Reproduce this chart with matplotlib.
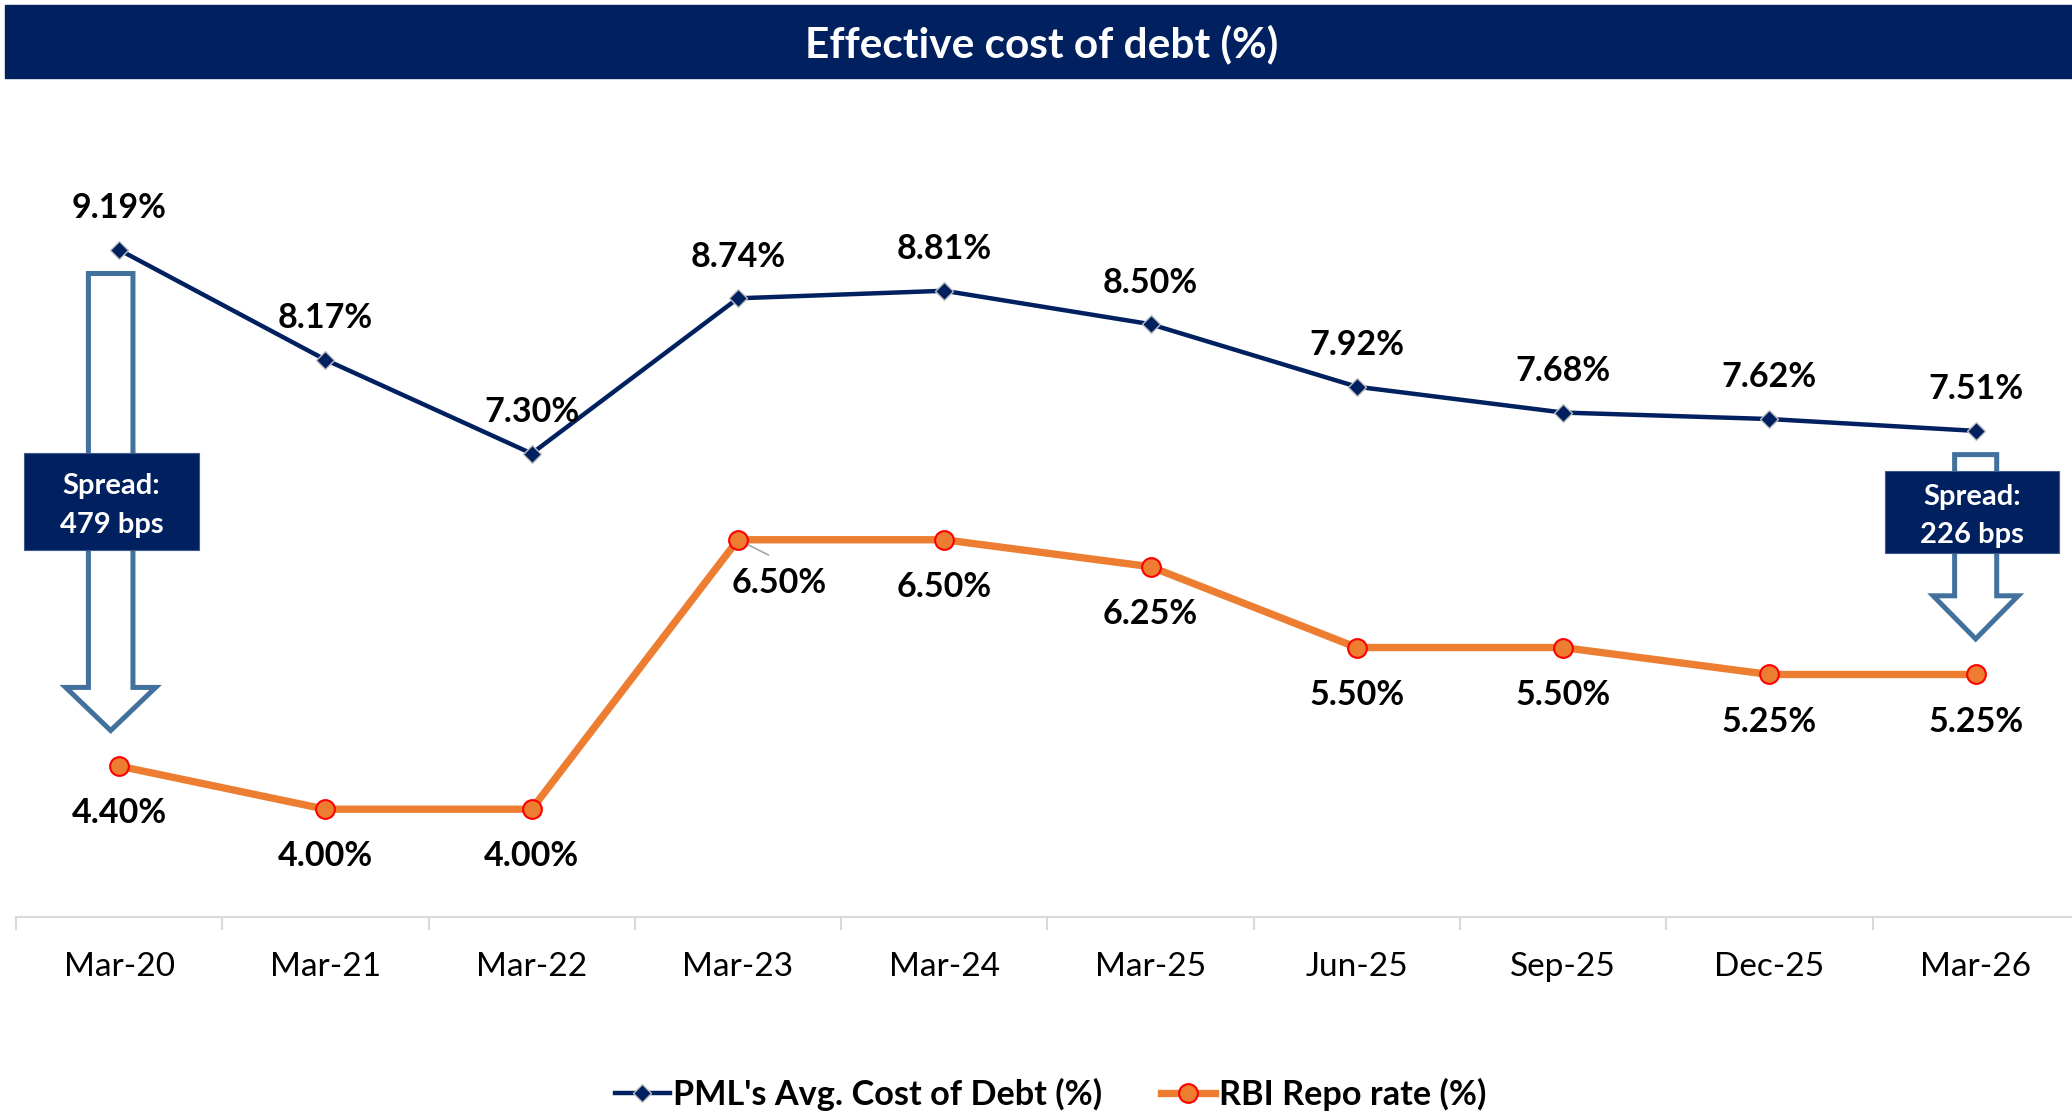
import matplotlib
matplotlib.use('Agg')
import matplotlib.pyplot as plt
from matplotlib.patches import Rectangle, Polygon
import numpy as np

categories = ['Mar-20', 'Mar-21', 'Mar-22', 'Mar-23', 'Mar-24', 'Mar-25',
              'Jun-25', 'Sep-25', 'Dec-25', 'Mar-26']
pml_cost = [9.19, 8.17, 7.30, 8.74, 8.81, 8.50, 7.92, 7.68, 7.62, 7.51]
repo_rate = [4.40, 4.00, 4.00, 6.50, 6.50, 6.25, 5.50, 5.50, 5.25, 5.25]
series_names = ["PML's Avg. Cost of Debt (%)", "RBI Repo rate (%)"]
title = "Effective cost of debt (%)"
spread_idx = [0, 9]
spread_labels = ["Spread:\n479 bps", "Spread:\n226 bps"]

plt.rcParams['font.family'] = ['Lato', 'DejaVu Sans']

NAVY = '#002060'
ORANGE = '#ED7D31'
ARROW = '#41719C'
GRID = '#D9D9D9'

W, H = 2072, 1114
fig = plt.figure(figsize=(W / 100, H / 100), dpi=100)

# title bar
fig.patches.append(Rectangle((5 / W, 1 - 78 / H), 1 - 5 / W, 73 / H,
                             transform=fig.transFigure, color=NAVY, zorder=0))
fig.text(1042 / W, 1 - 44 / H, title, color='white', fontsize=30.5,
         fontweight='bold', ha='center', va='center')

ax = fig.add_axes([16 / W, 1 - 917 / H, 1 - 16 / W, (917 - 162.5) / H])
x = np.arange(len(categories))

l1, = ax.plot(x, pml_cost, color=NAVY, lw=3.2, marker='D', ms=9.5,
              mfc=NAVY, mec='#BFBFBF', mew=1.0, zorder=3, label=series_names[0])
l2, = ax.plot(x, repo_rate, color=ORANGE, lw=5.3, marker='o', ms=13.5,
              mfc=ORANGE, mec='#FF0000', mew=1.5, zorder=3, label=series_names[1])

LBL = 24.5
for xi, v in zip(x, pml_cost):
    ax.annotate(f'{v:.2f}%', (xi, v), xytext=(0, 30), textcoords='offset points',
                ha='center', va='center', fontsize=LBL, fontweight='bold', zorder=6)
for xi, v in zip(x, repo_rate):
    if xi == 3:
        ax.annotate(f'{v:.2f}%', (xi, v), xytext=(30, -31), textcoords='offset points',
                    ha='center', va='center', fontsize=LBL, fontweight='bold', zorder=6)
        ax.annotate('', (xi, v), xytext=(22, -11), textcoords='offset points',
                    arrowprops=dict(arrowstyle='-', color='#A6A6A6', lw=1.2,
                                    shrinkA=0, shrinkB=0), zorder=2)
    else:
        ax.annotate(f'{v:.2f}%', (xi, v), xytext=(0, -34), textcoords='offset points',
                    ha='center', va='center', fontsize=LBL, fontweight='bold', zorder=6)

# spread arrows + boxes (annotation styling)
arrow_dx = [-0.041, 0.0]
shaft_hw = [0.108, 0.102]
head_hw = [0.218, 0.206]
box_specs = [(-0.037, 6.853, 0.848, 0.90), (8.983, 6.755, 0.843, 0.76)]
for k, i in enumerate(spread_idx):
    cx = i + arrow_dx[k]
    top = pml_cost[i] - 0.22
    tip = repo_rate[i] + 0.33
    hstart = tip + 0.40
    sw, hw = shaft_hw[k], head_hw[k]
    pts = [(cx - sw, top), (cx + sw, top), (cx + sw, hstart), (cx + hw, hstart),
           (cx, tip), (cx - hw, hstart), (cx - sw, hstart)]
    ax.add_patch(Polygon(pts, closed=True, facecolor='white', edgecolor=ARROW,
                         lw=3.6, joinstyle='miter', zorder=4))
    bx, by, bw, bh = box_specs[k]
    ax.add_patch(Rectangle((bx - bw / 2, by - bh / 2), bw, bh, facecolor=NAVY,
                           edgecolor='#3B5A8A', lw=0.8, zorder=5))
    ax.text(bx, by - 0.035, spread_labels[k], color='white', fontsize=21,
            fontweight='bold', ha='center', va='center', linespacing=1.6, zorder=6)

# axes styling
for s in ['top', 'right', 'left']:
    ax.spines[s].set_visible(False)
ax.spines['bottom'].set_color(GRID)
ax.spines['bottom'].set_linewidth(1.5)
ax.set_yticks([])
ax.set_xticks(x)
ax.set_xticklabels(categories, fontsize=24)
ax.tick_params(axis='x', which='major', length=0, pad=25.5)
ax.set_xticks(np.arange(-0.5, len(categories), 1.0), minor=True)
ax.tick_params(axis='x', which='minor', length=9, width=1.5, color=GRID)
ax.set_xlim(-0.5, -0.5 + 2056 / 206.28)
ax.set_ylim(3, 10)

fig.legend(handles=[l1, l2], loc='center', bbox_to_anchor=(0.507, 1 - 1094 / H),
           ncol=2, frameon=False, prop={'weight': 'bold', 'size': 24.7},
           handlelength=1.6, handletextpad=0.1, columnspacing=1.7)

fig.savefig('out.png', dpi=100)
